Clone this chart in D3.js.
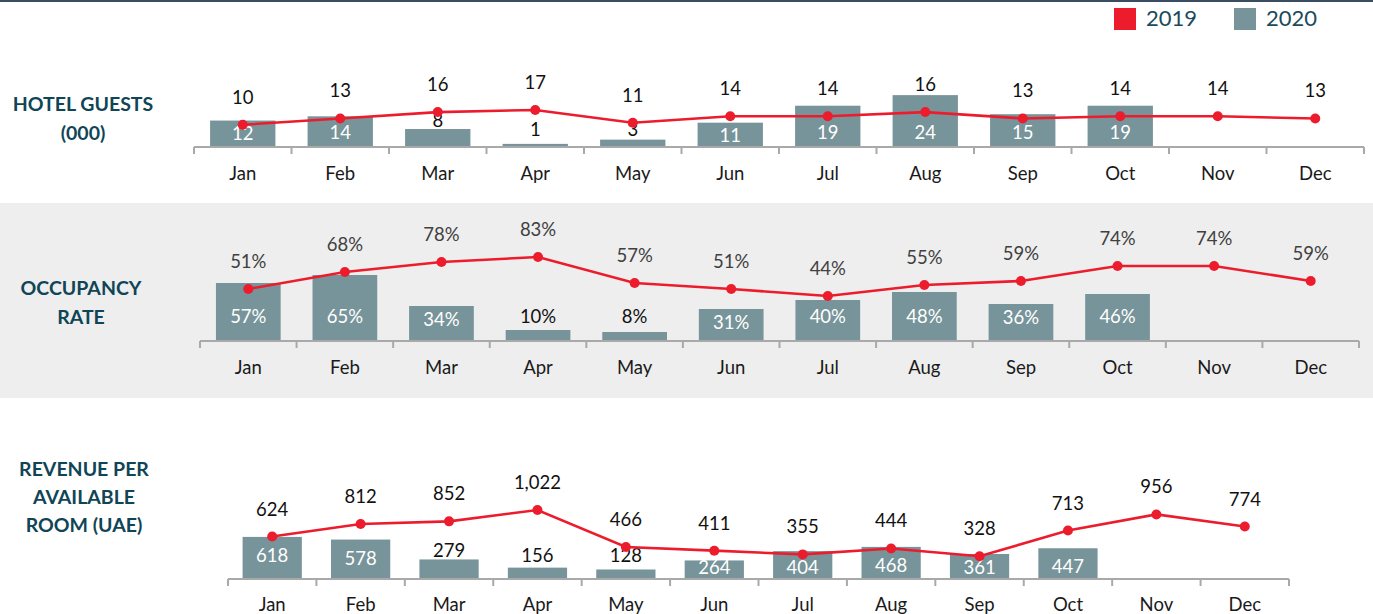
<!DOCTYPE html>
<html><head><meta charset="utf-8">
<script src="https://cdn.jsdelivr.net/npm/d3@7"></script>
<style>
html,body{margin:0;padding:0;background:#fff;}
svg{display:block;font-family:Lato,"Open Sans",sans-serif;}
</style></head>
<body><svg id="c" width="1373" height="614"></svg>
<script>
const months = ["Jan","Feb","Mar","Apr","May","Jun","Jul","Aug","Sep","Oct","Nov","Dec"];
const legendLabels = ["2019","2020"];

const guests2019 = [10,13,16,17,11,14,14,16,13,14,14,13];
const guests2020 = [12,14,8,1,3,11,19,24,15,19,null,null];
const guestsOutsideLabels = ["Mar","Apr","May"];

const occupancy2019 = [51,68,78,83,57,51,44,55,59,74,74,59];
const occupancy2020 = [57,65,34,10,8,31,40,48,36,46,null,null];
const occupancyOutsideLabels = ["Apr","May"];

const revpar2019 = [624,812,852,1022,466,411,355,444,328,713,956,774];
const revpar2020 = [618,578,279,156,128,264,404,468,361,447,null,null];
const revparOutsideLabels = ["Mar","Apr","May"];

const RED = "#ec1c2d", BAR = "#77949a", TEAL = "#0f4556";
const svg = d3.select("#c");

// top rule
svg.append("rect").attr("x",0).attr("y",0).attr("width",1373).attr("height",2).attr("fill","#3b4d63");
// grey band for occupancy
svg.append("rect").attr("x",0).attr("y",203).attr("width",1373).attr("height",195).attr("fill","#eeeeee");

// legend
const leg = [{c:RED,x:1114},{c:BAR,x:1234}];
leg.forEach((l,i)=>{
  svg.append("rect").attr("x",l.x).attr("y",8).attr("width",22).attr("height",22).attr("fill",l.c);
  svg.append("text").attr("x",l.x+32).attr("y",26).attr("font-size",22).attr("fill","#1b4b5b").text(legendLabels[i]);
});

function panel(opt){
  const g = svg.append("g");
  const x = d3.scaleBand().domain(months).range([opt.x0,opt.x1]).padding(0);
  const y = d3.scaleLinear().domain([0,opt.max]).range([opt.base, opt.base - opt.max*opt.k]);
  const bw = x.bandwidth();
  const barW = bw*0.67;
  const fmt = opt.fmt;

  // title
  opt.title.forEach((t,i)=>{
    g.append("text").attr("x",opt.tx).attr("y",opt.ty + i*opt.tl).attr("text-anchor","middle")
      .attr("dominant-baseline","central").attr("font-weight",700).attr("font-size",19.5)
      .attr("fill",TEAL).text(t);
  });

  // bars
  const bars = months.map((m,i)=>({m,v:opt.bars[i]})).filter(d=>d.v!=null);
  g.selectAll("rect.bar").data(bars).enter().append("rect")
    .attr("x",d=>x(d.m)+(bw-barW)/2).attr("width",barW)
    .attr("y",d=>y(d.v)).attr("height",d=>opt.base-y(d.v)).attr("fill",BAR);

  // axis: category labels + baseline + boundary ticks
  const axis = g.append("g").attr("transform",`translate(0,${opt.base})`)
    .call(d3.axisBottom(x).tickSize(0).tickPadding(0));
  axis.select(".domain").remove();
  axis.selectAll("text").attr("font-size",18.5).attr("fill","#1a1a1a").attr("font-family","Lato,sans-serif")
    .attr("dy",null).attr("y",opt.mly).attr("dominant-baseline","central");
  g.append("line").attr("x1",opt.x0).attr("x2",opt.x1).attr("y1",opt.base+1).attr("y2",opt.base+1)
    .attr("stroke","#a9a9a9").attr("stroke-width",2);
  const bounds = months.map(m=>x(m)).concat([opt.x1]);
  g.selectAll("line.tk").data(bounds).enter().append("line")
    .attr("x1",d=>d).attr("x2",d=>d).attr("y1",opt.base+1).attr("y2",opt.base+8)
    .attr("stroke","#a9a9a9").attr("stroke-width",2);

  // bar labels
  const inside = d => !opt.outside.includes(d.m);
  g.selectAll("text.bl").data(bars).enter().append("text")
    .attr("x",d=>x(d.m)+bw/2)
    .attr("y",d=>{
      const top = y(d.v);
      return inside(d) ? Math.min(Math.max(opt.inY, top+opt.inPad), opt.inMax)
                       : Math.min(opt.outY, top-9);
    })
    .attr("text-anchor","middle").attr("dominant-baseline","central").attr("font-size",18.5)
    .attr("fill",d=>inside(d) ? "#ffffff" : "#111")
    .text(d=>fmt(d.v));

  // line
  const pts = months.map((m,i)=>({m,v:opt.line[i]}));
  g.append("path").datum(pts)
    .attr("d",d3.line().x(d=>x(d.m)+bw/2).y(d=>y(d.v)))
    .attr("fill","none").attr("stroke",RED).attr("stroke-width",2.6);
  g.selectAll("circle").data(pts).enter().append("circle")
    .attr("cx",d=>x(d.m)+bw/2).attr("cy",d=>y(d.v)).attr("r",5).attr("fill",RED);
  g.selectAll("text.ll").data(pts).enter().append("text")
    .attr("x",d=>x(d.m)+bw/2).attr("y",d=>y(d.v)-28)
    .attr("text-anchor","middle").attr("dominant-baseline","central").attr("font-size",18.5)
    .attr("fill",opt.lineLabelColor).text(d=>fmt(d.v));
}

panel({x0:194,x1:1364,base:146,k:2.12,max:30,bars:guests2020,line:guests2019,outside:guestsOutsideLabels,
  fmt:d3.format("d"),title:["HOTEL GUESTS","(000)"],tx:83,ty:103,tl:29,mly:27,
  inY:132,inPad:12,inMax:200,outY:129,lineLabelColor:"#111"});

panel({x0:200,x1:1359,base:340,k:1,max:100,bars:occupancy2020,line:occupancy2019,outside:occupancyOutsideLabels,
  fmt:v=>v+"%",title:["OCCUPANCY","RATE"],tx:81,ty:287,tl:29,mly:27,
  inY:316,inPad:13,inMax:400,outY:316,lineLabelColor:"#404040"});

panel({x0:228,x1:1289,base:578,k:0.0665,max:1200,bars:revpar2020,line:revpar2019,outside:revparOutsideLabels,
  fmt:d3.format(","),title:["REVENUE PER","AVAILABLE","ROOM (UAE)"],tx:84,ty:468,tl:28,mly:26,
  inY:0,inPad:18,inMax:567,outY:555,lineLabelColor:"#111"});
</script></body></html>
